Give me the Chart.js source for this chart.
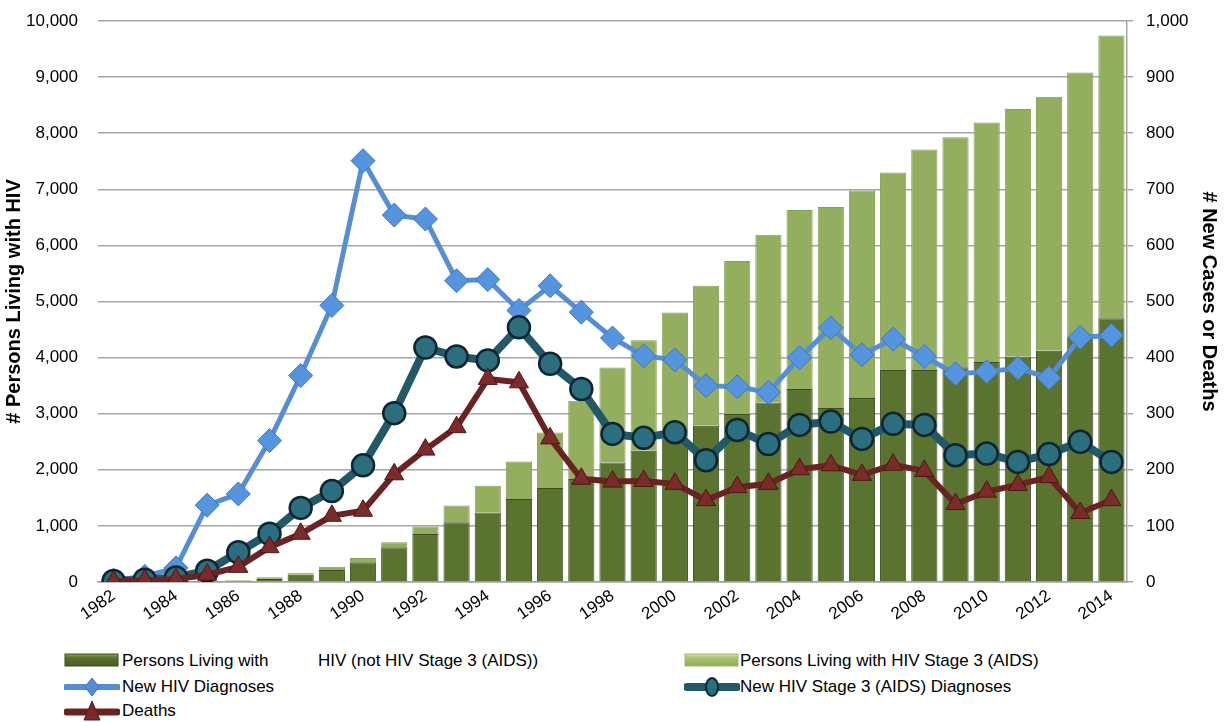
<!DOCTYPE html>
<html><head><meta charset="utf-8">
<script src="https://cdn.jsdelivr.net/npm/chart.js@4"></script>
<style>
html,body{margin:0;padding:0;background:#fff;width:1225px;height:722px;overflow:hidden;font-family:"Liberation Sans",Arial,sans-serif;}
#wrap{position:absolute;left:0;top:0;width:1225px;height:640px;}
.leg{position:absolute;font-size:17px;color:#000;white-space:nowrap;line-height:20px;height:20px;}
.sym{position:absolute;}
</style></head><body>
<div id="wrap"><canvas id="c" width="1225" height="640"></canvas></div>

<svg class="sym" style="left:64px;top:652px" width="56" height="16"><defs><linearGradient id="gd" x1="0" y1="0" x2="0" y2="1"><stop offset="0" stop-color="#8aa655"/><stop offset="0.3" stop-color="#5a7430"/><stop offset="1" stop-color="#465d22"/></linearGradient><linearGradient id="gl" x1="0" y1="0" x2="0" y2="1"><stop offset="0" stop-color="#d6e8a6"/><stop offset="0.3" stop-color="#a9c474"/><stop offset="1" stop-color="#8fab58"/></linearGradient></defs><rect x="1" y="2" width="53" height="12" fill="url(#gd)" stroke="#3b4e1c"/></svg>
<div class="leg" style="left:122px;top:651px">Persons Living with</div>
<div class="leg" style="left:318px;top:651px">HIV (not HIV Stage 3 (AIDS))</div>
<svg class="sym" style="left:684px;top:652px" width="56" height="16"><rect x="1" y="2" width="53" height="12" fill="url(#gl)" stroke="#9cb86a"/></svg>
<div class="leg" style="left:740px;top:651px">Persons Living with HIV Stage 3 (AIDS)</div>

<svg class="sym" style="left:64px;top:676px" width="56" height="22"><line x1="2" y1="11" x2="54" y2="11" stroke="#558ed5" stroke-width="6" stroke-linecap="round"/><polygon points="28,2 35,11 28,20 21,11" fill="#4f8fdc" stroke="#3a78c8"/></svg>
<div class="leg" style="left:122px;top:677px">New HIV Diagnoses</div>
<svg class="sym" style="left:684px;top:676px" width="56" height="22"><line x1="3" y1="11" x2="53" y2="11" stroke="#215968" stroke-width="8" stroke-linecap="round"/><ellipse cx="28" cy="11" rx="6" ry="9" fill="#2a6f80" stroke="#0e2a3a" stroke-width="2"/></svg>
<div class="leg" style="left:740px;top:677px">New HIV Stage 3 (AIDS) Diagnoses</div>

<svg class="sym" style="left:64px;top:699px" width="56" height="23"><line x1="3" y1="13" x2="53" y2="13" stroke="#6b2222" stroke-width="7" stroke-linecap="round"/><polygon points="28,2 36,21 20,21" fill="#7a2a2a" stroke="#5a1a1a"/></svg>
<div class="leg" style="left:122px;top:701px">Deaths</div>

<script>
const years = ['1982','1983','1984','1985','1986','1987','1988','1989','1990','1991','1992','1993','1994','1995','1996','1997','1998','1999','2000','2001','2002','2003','2004','2005','2006','2007','2008','2009','2010','2011','2012','2013','2014'];

// Persons living with HIV (not stage 3) - left axis
const livingNotAids = [0,2,4,8,20,54,130,214,351,619,857,1063,1241,1479,1675,1835,2132,2340,2577,2785,2993,3200,3440,3100,3280,3780,3780,3830,3920,4020,4120,4350,4700];
// Total persons living with HIV (top of stacked bar)
const livingTotal = [0,3,6,12,30,83,160,274,429,708,988,1363,1716,2150,2666,3230,3824,4311,4804,5279,5724,6190,6630,6685,6980,7300,7710,7930,8190,8430,8650,9080,9740];
const livingAids = livingTotal.map((t,i)=>t - livingNotAids[i]);

// Right axis series
const newHivDiagnoses = [3,10,25,137,157,252,368,493,751,654,647,537,539,484,528,481,435,403,396,350,348,338,400,453,405,433,402,371,375,381,364,436,440];
const newAidsDiagnoses = [2,4,8,20,53,86,132,162,208,301,418,402,395,454,389,344,264,257,267,217,271,246,280,286,255,282,280,226,229,214,228,250,214];
const deaths = [1,3,5,13,27,62,86,118,127,192,236,276,362,356,256,184,179,180,175,146,169,175,201,208,191,209,198,139,161,173,187,123,146];

const leftTicks = [0,1000,2000,3000,4000,5000,6000,7000,8000,9000,10000];
const rightTicks = [0,100,200,300,400,500,600,700,800,900,1000];

const FONT = "'Liberation Sans', Arial, sans-serif";
Chart.defaults.font.family = FONT;
Chart.defaults.color = '#000';

function barGrad(c0, c1, c2){
  return function(ctx){
    const ch = ctx.chart; const ca = ch.chartArea;
    if(!ca) return c1;
    const el = ctx.element;
    if(!el || el.x === undefined || !isFinite(el.x)) return c1;
    const w = el.width || 26;
    const g = ch.ctx.createLinearGradient(el.x - w/2, 0, el.x + w/2, 0);
    g.addColorStop(0, c0); g.addColorStop(0.5, c1); g.addColorStop(1, c2);
    return g;
  };
}

new Chart(document.getElementById('c'), {
  data: {
    labels: years,
    datasets: [
      { type:'line', label:'Deaths', data:deaths, yAxisID:'y1', order:1,
        borderColor:'#6b2222', borderWidth:6, tension:0,
        pointStyle:'triangle', pointRadius:11, pointHoverRadius:11,
        pointBackgroundColor:'#7c2b2b', pointBorderColor:'#4e1515', pointBorderWidth:1 },
      { type:'line', label:'New HIV Stage 3 (AIDS) Diagnoses', data:newAidsDiagnoses, yAxisID:'y1', order:2,
        borderColor:'#215968', borderWidth:8, tension:0,
        pointStyle:'circle', pointRadius:11, pointHoverRadius:11,
        pointBackgroundColor:'#2b6e7e', pointBorderColor:'#0d2433', pointBorderWidth:2.5 },
      { type:'line', label:'New HIV Diagnoses', data:newHivDiagnoses, yAxisID:'y1', order:3,
        borderColor:'#558ed5', borderWidth:5, tension:0,
        pointStyle:'rectRot', pointRadius:12, pointHoverRadius:12,
        pointBackgroundColor:'#5595e0', pointBorderColor:'#3b76c2', pointBorderWidth:1 },
      { type:'bar', label:'Persons Living with HIV (not HIV Stage 3 (AIDS))', data:livingNotAids, yAxisID:'y', stack:'s', order:10,
        backgroundColor:barGrad('#3f5420','#5a7430','#3f5420'), borderColor:'#3b4e1c', borderWidth:1,
        barPercentage:0.84, categoryPercentage:1 },
      { type:'bar', label:'Persons Living with HIV Stage 3 (AIDS)', data:livingAids, yAxisID:'y', stack:'s', order:11,
        backgroundColor:barGrad('#7a9645','#93ae5e','#7a9645'), borderColor:'#86a054', borderWidth:1,
        barPercentage:0.84, categoryPercentage:1 }
    ]
  },
  options: {
    responsive:false, animation:false,
    layout:{ padding:{ top:21, bottom:0, left:0, right:0 } },
    plugins:{ legend:{display:false}, tooltip:{enabled:false} },
    scales:{
      x:{ stacked:true, offset:true,
        grid:{ display:false, drawTicks:false },
        border:{ display:true, color:'#a0a0a0', width:1.5 },
        ticks:{ autoSkip:false, maxRotation:35, minRotation:35, font:{size:17}, padding:4,
          callback:function(v,i){ return i%2===0 ? years[i] : ''; } },
        afterFit:function(s){ s.height = 640 - 582; }
      },
      y:{ position:'left', stacked:true, min:0, max:10000,
        afterBuildTicks:function(s){ s.ticks = leftTicks.map(v=>({value:v})); },
        ticks:{ font:{size:17}, padding:20, callback:v=>v.toLocaleString('en-US') },
        grid:{ color:'#a6a6a6', lineWidth:1.5, drawTicks:false, tickLength:0 },
        border:{ display:false },
        title:{ display:true, text:'# Persons Living with HIV', font:{size:20, weight:'bold'}, padding:{top:2,bottom:4} },
        afterFit:function(s){ s.width = 98; s.paddingTop = 0; s.paddingBottom = 0; }
      },
      y1:{ position:'right', min:0, max:1000,
        afterBuildTicks:function(s){ s.ticks = rightTicks.map(v=>({value:v})); },
        ticks:{ font:{size:17}, padding:13, callback:v=>v.toLocaleString('en-US') },
        grid:{ drawOnChartArea:false, color:'#a6a6a6', lineWidth:1.5, tickLength:6 },
        border:{ display:true, color:'#a6a6a6', width:1.5 },
        title:{ display:true, text:'# New Cases or Deaths', font:{size:20, weight:'bold'}, padding:{top:4,bottom:4} },
        afterFit:function(s){ s.width = 1225 - 1127; s.paddingTop = 0; s.paddingBottom = 0; }
      }
    }
  }
});
</script>
</body></html>
